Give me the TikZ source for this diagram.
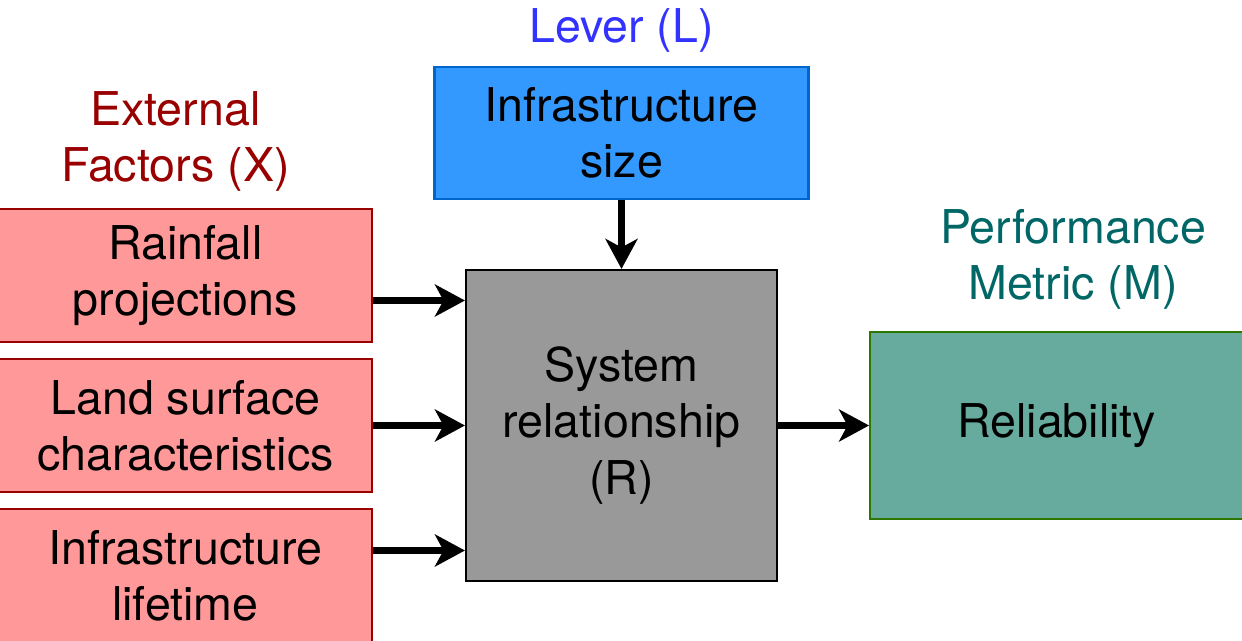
\documentclass[tikz,border=0pt]{standalone}
\usepackage{fontspec}
\setmainfont{TeX Gyre Heros}
\usetikzlibrary{positioning}
\usetikzlibrary{arrows.meta}

\definecolor{xfill}{HTML}{FF9999}
\definecolor{xline}{HTML}{990000}
\definecolor{lfill}{HTML}{3399FF}
\definecolor{lline}{HTML}{0066CC}
\definecolor{lfont}{HTML}{3333FF}
\definecolor{mfill}{HTML}{67AB9F}
\definecolor{mline}{HTML}{2D7600}
\definecolor{mfont}{HTML}{006666}

\begin{document}
\begin{tikzpicture}[every node/.style={font=\fontsize{26.5}{32}\selectfont, align=center},
	xnode/.style={rectangle,draw=xline,fill=xfill,line width=1.2pt,minimum width=7.46cm,minimum height=2.66cm},
	snode/.style={rectangle,draw=black,fill=black!40,line width=1.2pt,minimum width=6.22cm,minimum height=6.22cm},
	lnode/.style={rectangle,draw=lline,fill=lfill,line width=1.2pt,minimum width=7.48cm,minimum height=2.64cm},
	mnode/.style={rectangle,draw=mline,fill=mfill,line width=1.2pt,minimum width=7.46cm,minimum height=3.74cm},
	arr/.style={line width=3.6pt,-{Stealth[length=0.6cm,width=0.64cm,inset=0.17cm]}}]
		\useasboundingbox (0,0) rectangle (24.84,-12.82);
		\node[snode] (sys) at (12.43,-8.51) {System\\relationship\\(R)};
		\node[xnode] (land)[left = 1.84cm of sys]{Land surface\\characteristics};
		\node[xnode] (rain)[above = .3cm of land]{Rainfall\\projections};
		\node[xnode] (life)[below = .3cm of land]{Infrastructure\\lifetime};
		\node[lnode] (size)[above = 1.38cm of sys]{Infrastructure\\size};
		\node[mnode] (rel)[right = 1.82cm of sys]{Reliability};
		% group labels
		\node[text=xline] (xlab)[above = .2cm of rain, xshift=-.2cm]{External\\Factors (X)};
		\node[text=lfont] (llab)[above = .15cm of size]{Lever (L)};
		\node[text=mfont] (mlab)[above = .3cm of rel, xshift=.33cm]{Performance\\Metric (M)};
		% arrows into the system
		\coordinate (in1) at ([yshift=2.5cm]sys.west);
		\coordinate (in3) at ([yshift=-2.5cm]sys.west);
		\draw[arr] (rain.east |- in1) -- (in1);
		\draw[arr] (land.east |- sys.west) -- (sys.west);
		\draw[arr] (life.east |- in3) -- (in3);
		\draw[arr] (size) -- (sys);
		\draw[arr] (sys) -- (rel);
	\end{tikzpicture}
\end{document}
